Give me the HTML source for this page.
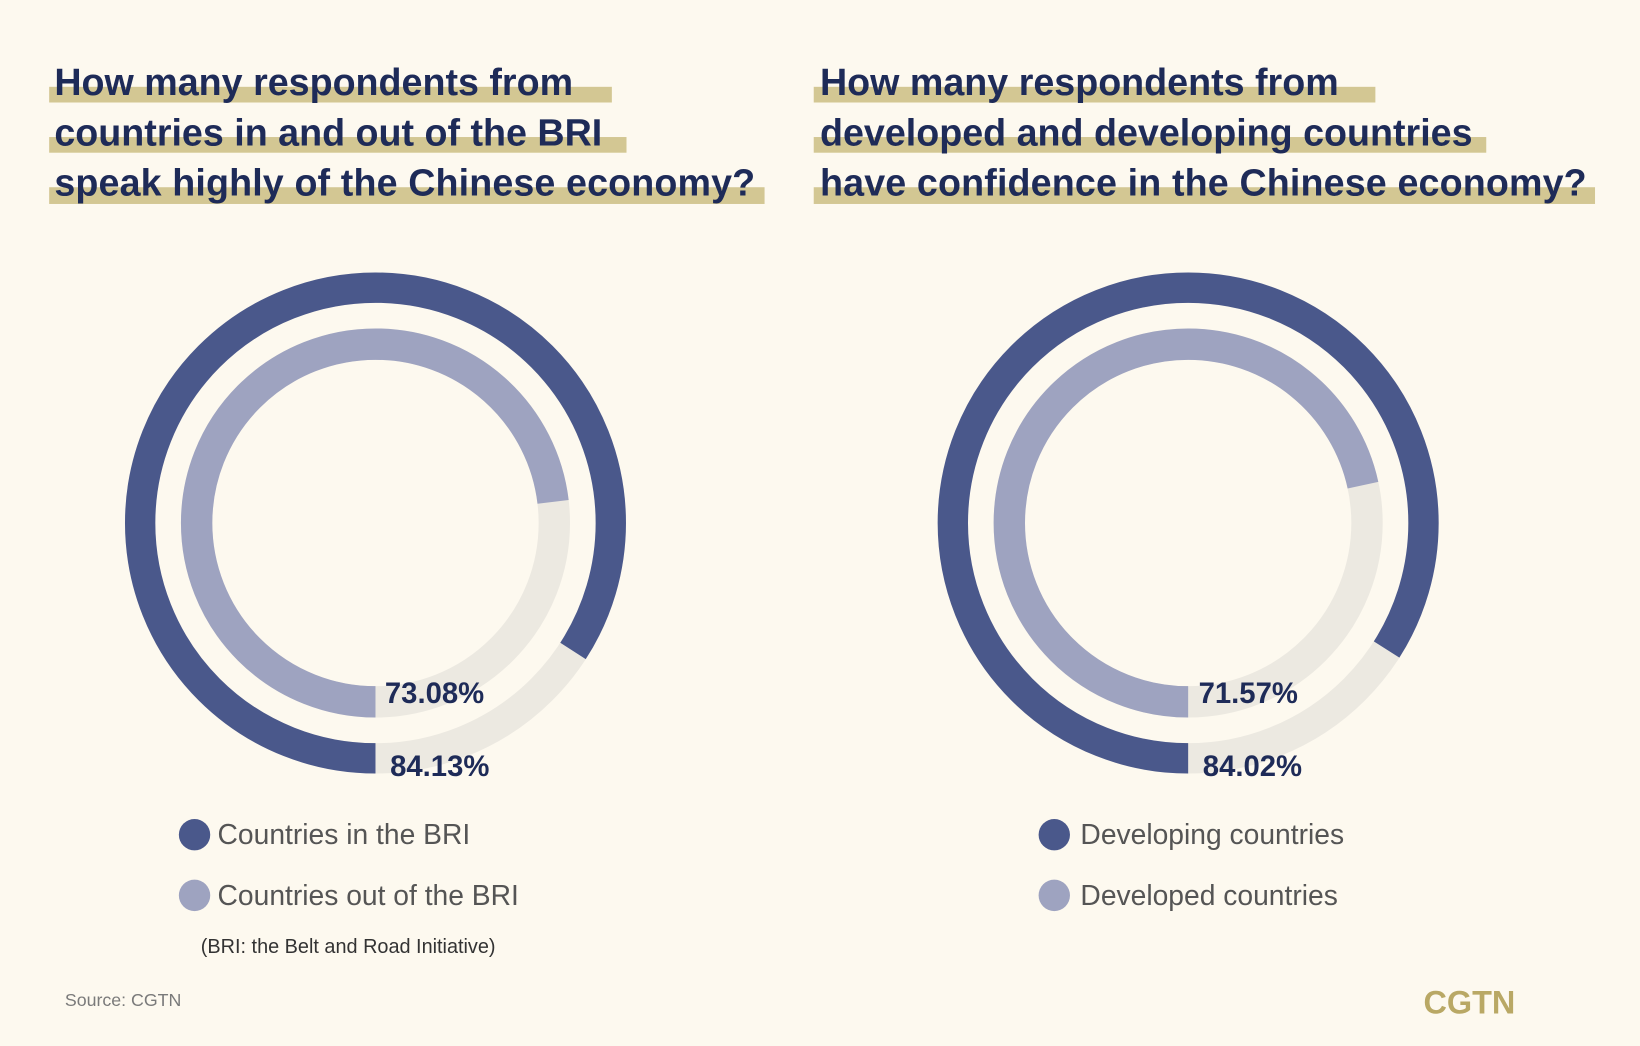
<!DOCTYPE html>
<html><head><meta charset="utf-8"><style>
html,body{margin:0;padding:0;background:#fdf9ef;}
svg{display:block;}
text{font-family:"Liberation Sans",sans-serif;}
</style></head><body>
<svg width="1640" height="1046" viewBox="0 0 1568 1000" preserveAspectRatio="none" xmlns="http://www.w3.org/2000/svg">
<rect width="1568" height="1000" fill="#fdf9ef"/>
<!-- title highlight bars -->
<g fill="#d3c793">
<rect x="47" y="83" width="538" height="15"/>
<rect x="47" y="131" width="552" height="15"/>
<rect x="47" y="179" width="684" height="16"/>
<rect x="778" y="83" width="537" height="15"/>
<rect x="778" y="131" width="643" height="15"/>
<rect x="778" y="179" width="747" height="16"/>
</g>
<g fill="#1e2b58" font-weight="bold" font-size="36">
<text x="52" y="91">How many respondents from</text>
<text x="52" y="139">countries in and out of the BRI</text>
<text x="52" y="187" textLength="670">speak highly of the Chinese economy?</text>
<text x="784" y="91">How many respondents from</text>
<text x="784" y="139">developed and developing countries</text>
<text x="784" y="187" textLength="733">have confidence in the Chinese economy?</text>
</g>
<!-- left donut -->
<g transform="translate(359,500) rotate(90)" fill="none">
<circle r="225" stroke="#ece9e1" stroke-width="29"/>
<circle r="225" stroke="#4a588b" stroke-width="29" stroke-dasharray="1189.4 2000"/>
<circle r="171" stroke="#ece9e1" stroke-width="30"/>
<circle r="171" stroke="#9ea3c0" stroke-width="30" stroke-dasharray="785.2 2000"/>
</g>
<!-- right donut -->
<g transform="translate(1136,500) rotate(90)" fill="none">
<circle r="225" stroke="#ece9e1" stroke-width="29"/>
<circle r="225" stroke="#4a588b" stroke-width="29" stroke-dasharray="1187.8 2000"/>
<circle r="171" stroke="#ece9e1" stroke-width="30"/>
<circle r="171" stroke="#9ea3c0" stroke-width="30" stroke-dasharray="769 2000"/>
</g>
<g fill="#1e2b58" font-weight="bold" font-size="28">
<text x="368" y="672">73.08%</text>
<text x="373" y="742">84.13%</text>
<text x="1146" y="672">71.57%</text>
<text x="1150" y="742">84.02%</text>
</g>
<g font-size="27" fill="#555555">
<circle cx="186" cy="798" r="15" fill="#4a588b"/>
<text x="208" y="807">Countries in the BRI</text>
<circle cx="186" cy="856" r="15" fill="#9ea3c0"/>
<text x="208" y="865">Countries out of the BRI</text>
<circle cx="1008" cy="798" r="15" fill="#4a588b"/>
<text x="1033" y="807">Developing countries</text>
<circle cx="1008" cy="856" r="15" fill="#9ea3c0"/>
<text x="1033" y="865">Developed countries</text>
</g>
<text x="192" y="911" font-size="19" fill="#333">(BRI: the Belt and Road Initiative)</text>
<text x="62" y="962" font-size="17" fill="#7a7a7a">Source: CGTN</text>
<text x="1361" y="969" font-size="31" font-weight="bold" fill="#b9a865">CGTN</text>
</svg>
</body></html>
